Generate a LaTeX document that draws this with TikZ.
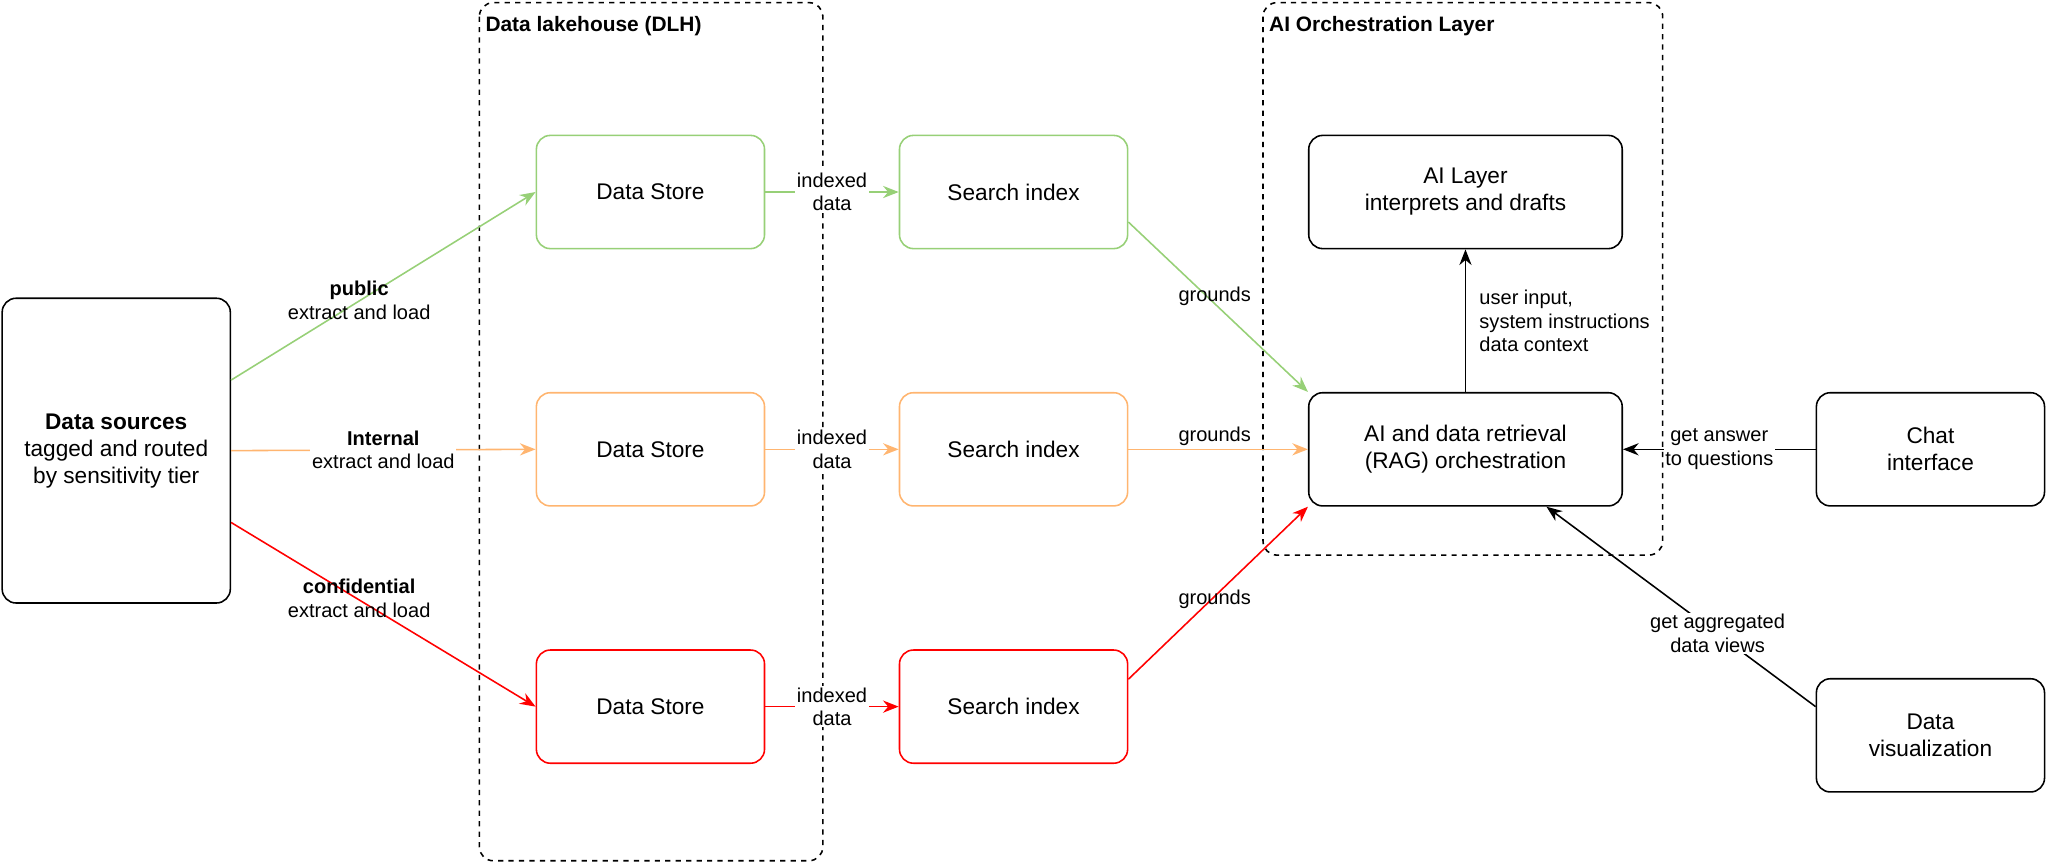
\documentclass[tikz,border=0pt]{standalone}
\usepackage{fontspec}
\setmainfont{Liberation Sans}
\usetikzlibrary{arrows.meta}
\definecolor{pubgreen}{HTML}{97D077}
\definecolor{intorange}{HTML}{FFB570}
\definecolor{confred}{HTML}{FF0000}
\tikzset{
  box/.style={draw, rounded corners=8pt, minimum width=131pt, minimum height=65pt, align=center, font=\fontsize{13}{15.5}\selectfont, line width=0.9pt},
  lbl/.style={font=\fontsize{11.5}{13.5}\selectfont, align=center},
  arr/.style={-{Stealth[length=9pt,width=7pt]}, line width=0.9pt},
  zone/.style={draw, dashed, rounded corners=8pt, line width=0.9pt}
}
\begin{document}
\begin{tikzpicture}[x=0.75pt, y=-0.75pt]
        \useasboundingbox (0,0) rectangle (1568,662);
        % groups
        \draw[zone] (367,2) rectangle (630,659);
        \node[lbl, anchor=west, font=\bfseries\fontsize{12}{14}\selectfont] at (367,20) {Data lakehouse (DLH)};
        \draw[zone] (967,2) rectangle (1273,425);
        \node[lbl, anchor=west, font=\bfseries\fontsize{12}{14}\selectfont] at (967,20) {AI Orchestration Layer};
        % nodes
        \node[box, minimum height=175pt] (src) at (89,345) {\textbf{Data sources}\\tagged and routed\\by sensitivity tier};
        \node[box, draw=pubgreen] (st1) at (498,147) {Data Store};
        \node[box, draw=intorange] (st2) at (498,344) {Data Store};
        \node[box, draw=confred] (st3) at (498,541) {Data Store};
        \node[box, draw=pubgreen] (ix1) at (776,147) {Search index};
        \node[box, draw=intorange] (ix2) at (776,344) {Search index};
        \node[box, draw=confred] (ix3) at (776,541) {Search index};
        \node[box, minimum width=180pt] (ai) at (1122,147) {AI Layer\\interprets and drafts};
        \node[box, minimum width=180pt] (rag) at (1122,344) {AI and data retrieval\\(RAG) orchestration};
        \node[box] (chat) at (1478,344) {Chat\\interface};
        \node[box] (vis) at (1478,563) {Data\\visualization};
        % sources to stores
        \draw[arr, pubgreen] (src.east |- 0,291) -- (st1.west);
        \node[lbl] at (275,230) {\textbf{public}\\extract and load};
        \draw[arr, intorange] (src.east) -- node[lbl, fill=white, inner sep=1pt, text=black] {\textbf{Internal}\\extract and load} (st2.west);
        \draw[arr, confred] (src.east |- 0,400) -- (st3.west);
        \node[lbl] at (275,458) {\textbf{confidential}\\extract and load};
        % stores to indexes
        \draw[arr, pubgreen] (st1) -- node[lbl, fill=white, inner sep=1pt, text=black] {indexed\\data} (ix1);
        \draw[arr, intorange] (st2) -- node[lbl, fill=white, inner sep=1pt, text=black] {indexed\\data} (ix2);
        \draw[arr, confred] (st3) -- node[lbl, fill=white, inner sep=1pt, text=black] {indexed\\data} (ix3);
        % indexes to orchestration
        \draw[arr, pubgreen] (ix1.east |- 0,170) -- (rag.north west);
        \node[lbl] at (930,227) {grounds};
        \draw[arr, intorange] (ix2) -- (rag);
        \node[lbl] at (930,334) {grounds};
        \draw[arr, confred] (ix3.east |- 0,520) -- (rag.south west);
        \node[lbl] at (930,459) {grounds};
        % orchestration
        \draw[arr] (rag) -- (ai);
        \node[lbl, align=left, anchor=west] at (1128,246) {user input,\\system instructions\\data context};
        \draw[arr] (chat) -- node[lbl, fill=white, inner sep=1pt] {get answer\\to questions} (rag);
        \draw[arr] (vis.west |- 0,541) -- (rag.south -| 1184,0);
        \node[lbl, fill=white, inner sep=1pt] at (1315,485) {get aggregated\\data views};
\end{tikzpicture}
\end{document}
